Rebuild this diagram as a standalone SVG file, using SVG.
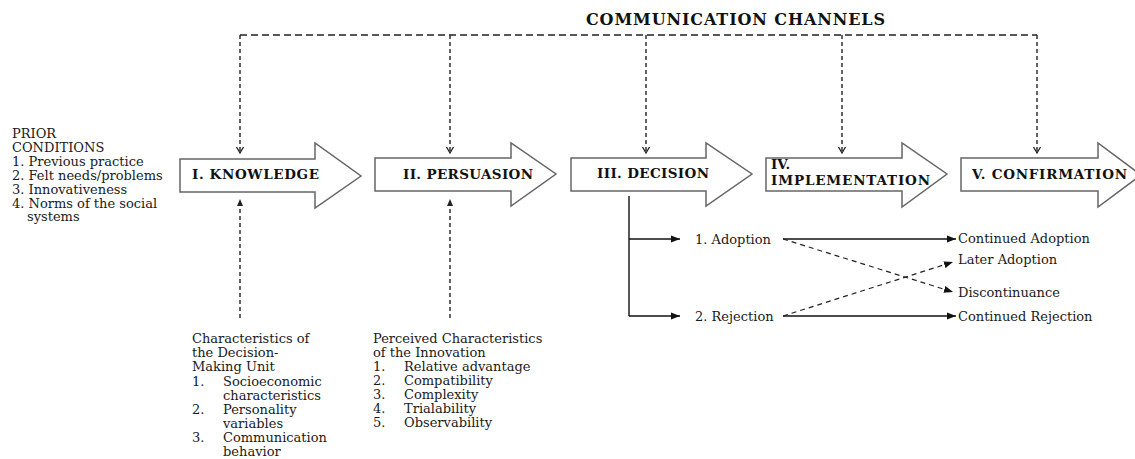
<svg xmlns="http://www.w3.org/2000/svg" width="1135" height="459" viewBox="0 0 1135 459">
<style>
.bg{fill:#ffffff}
.stage{fill:#ffffff;stroke:#666;stroke-width:1.5;stroke-linejoin:miter}
.lbl{font-family:"DejaVu Serif","Liberation Serif",serif;font-weight:bold;font-size:13.5px;fill:#111}
.title{font-family:"DejaVu Serif","Liberation Serif",serif;font-weight:bold;font-size:16px;fill:#111}
.txt{font-family:"DejaVu Serif","Liberation Serif",serif;font-size:13px;fill:#1a1a1a}
.dash{fill:none;stroke:#222;stroke-width:1.5;stroke-dasharray:7 4}
.vdash{fill:none;stroke:#222;stroke-width:1.4;stroke-dasharray:4 3}
.solid{fill:none;stroke:#111;stroke-width:1.4}
.cross{fill:none;stroke:#222;stroke-width:1.2;stroke-dasharray:5 4}
</style>
<defs>
<marker id="vopen" viewBox="0 -5 8 10" refX="6" refY="0" markerWidth="8" markerHeight="10" markerUnits="userSpaceOnUse" orient="auto"><path d="M0,-3.5 L6,0 L0,3.5" fill="none" stroke="#222" stroke-width="1.3"/></marker>
<marker id="tri" viewBox="0 -4 9 8" refX="9" refY="0" markerWidth="9" markerHeight="8" markerUnits="userSpaceOnUse" orient="auto"><path d="M0,-3.5 L9,0 L0,3.5 Z" fill="#111"/></marker>
<marker id="triS" viewBox="0 -4 7 8" refX="7" refY="0" markerWidth="7" markerHeight="8" markerUnits="userSpaceOnUse" orient="auto"><path d="M0,-3 L7,0 L0,3 Z" fill="#222"/></marker>
</defs>
<rect class="bg" x="0" y="0" width="1135" height="459"/>

<text class="title" x="586" y="25" textLength="299">COMMUNICATION CHANNELS</text>

<g id="prior-conditions">
<text class="txt" x="12" y="138">PRIOR</text>
<text class="txt" x="12" y="152">CONDITIONS</text>
<text class="txt" x="12" y="166">1. Previous practice</text>
<text class="txt" x="12" y="180">2. Felt needs/problems</text>
<text class="txt" x="12" y="194">3. Innovativeness</text>
<text class="txt" x="12" y="208">4. Norms of the social</text>
<text class="txt" x="27" y="221">systems</text>
</g>

<g id="knowledge">
<polygon class="stage" points="180,159 315,159 315,143 361,176 315,208 315,192 180,192"/>
<text class="lbl" x="192" y="179" textLength="127">I. KNOWLEDGE</text>
</g>
<g id="persuasion">
<polygon class="stage" points="375,158 511,158 511,143 556,174 511,206 511,191 375,191"/>
<text class="lbl" x="403" y="179" textLength="130">II. PERSUASION</text>
</g>
<g id="decision">
<polygon class="stage" points="571,158 706,158 706,143 752,174 706,206 706,191 571,191"/>
<text class="lbl" x="597" y="178" textLength="112">III. DECISION</text>
</g>
<g id="implementation">
<polygon class="stage" points="766,158 902,158 902,143 947,174 902,207 902,191 766,191"/>
<text class="lbl" x="771" y="169">IV.</text>
<text class="lbl" x="771" y="185" textLength="159">IMPLEMENTATION</text>
</g>
<g id="confirmation">
<polygon class="stage" points="961,158 1098,158 1098,143 1141,175 1098,207 1098,191 961,191"/>
<text class="lbl" x="972" y="179" textLength="155">V. CONFIRMATION</text>
</g>

<g id="decision-unit">
<text class="txt" x="192" y="343">Characteristics of</text>
<text class="txt" x="192" y="357">the Decision-</text>
<text class="txt" x="192" y="371">Making Unit</text>
<text class="txt" x="192" y="386">1.</text><text class="txt" x="223" y="386">Socioeconomic</text>
<text class="txt" x="223" y="400">characteristics</text>
<text class="txt" x="192" y="414">2.</text><text class="txt" x="223" y="414">Personality</text>
<text class="txt" x="223" y="428">variables</text>
<text class="txt" x="192" y="442">3.</text><text class="txt" x="223" y="442">Communication</text>
<text class="txt" x="223" y="456">behavior</text>
</g>

<g id="innovation-characteristics">
<text class="txt" x="373" y="343">Perceived Characteristics</text>
<text class="txt" x="373" y="357">of the Innovation</text>
<text class="txt" x="373" y="371">1.</text><text class="txt" x="404" y="371">Relative advantage</text>
<text class="txt" x="373" y="385">2.</text><text class="txt" x="404" y="385">Compatibility</text>
<text class="txt" x="373" y="399">3.</text><text class="txt" x="404" y="399">Complexity</text>
<text class="txt" x="373" y="413">4.</text><text class="txt" x="404" y="413">Trialability</text>
<text class="txt" x="373" y="427">5.</text><text class="txt" x="404" y="427">Observability</text>
</g>

<g id="adoption"><text class="txt" x="695" y="244">1. Adoption</text></g>
<g id="rejection"><text class="txt" x="695" y="321">2. Rejection</text></g>
<g id="continued-adoption"><text class="txt" x="958" y="243">Continued Adoption</text></g>
<g id="later-adoption"><text class="txt" x="958" y="264">Later Adoption</text></g>
<g id="discontinuance"><text class="txt" x="958" y="297">Discontinuance</text></g>
<g id="continued-rejection"><text class="txt" x="958" y="321">Continued Rejection</text></g>

<g id="connectors">
<line class="dash" x1="240" y1="35" x2="1037" y2="35"/>
<line class="vdash" x1="240" y1="35" x2="240" y2="153" marker-end="url(#vopen)"/>
<line class="vdash" x1="450" y1="35" x2="450" y2="153" marker-end="url(#vopen)"/>
<line class="vdash" x1="646" y1="35" x2="646" y2="153" marker-end="url(#vopen)"/>
<line class="vdash" x1="842" y1="35" x2="842" y2="153" marker-end="url(#vopen)"/>
<line class="vdash" x1="1037" y1="35" x2="1037" y2="153" marker-end="url(#vopen)"/>
<line class="vdash" x1="240" y1="318" x2="240" y2="199" marker-end="url(#triS)"/>
<line class="vdash" x1="450" y1="318" x2="450" y2="199" marker-end="url(#triS)"/>
<path class="solid" d="M629,196 V316"/>
<line class="solid" x1="629" y1="239" x2="680" y2="239" marker-end="url(#tri)"/>
<line class="solid" x1="629" y1="316" x2="680" y2="316" marker-end="url(#tri)"/>
<line class="solid" x1="783" y1="239" x2="956" y2="239" marker-end="url(#tri)"/>
<line class="solid" x1="783" y1="316" x2="956" y2="316" marker-end="url(#tri)"/>
<line class="cross" x1="783" y1="239" x2="953" y2="292" marker-end="url(#tri)"/>
<line class="cross" x1="783" y1="316" x2="953" y2="262" marker-end="url(#tri)"/>
</g>
</svg>
